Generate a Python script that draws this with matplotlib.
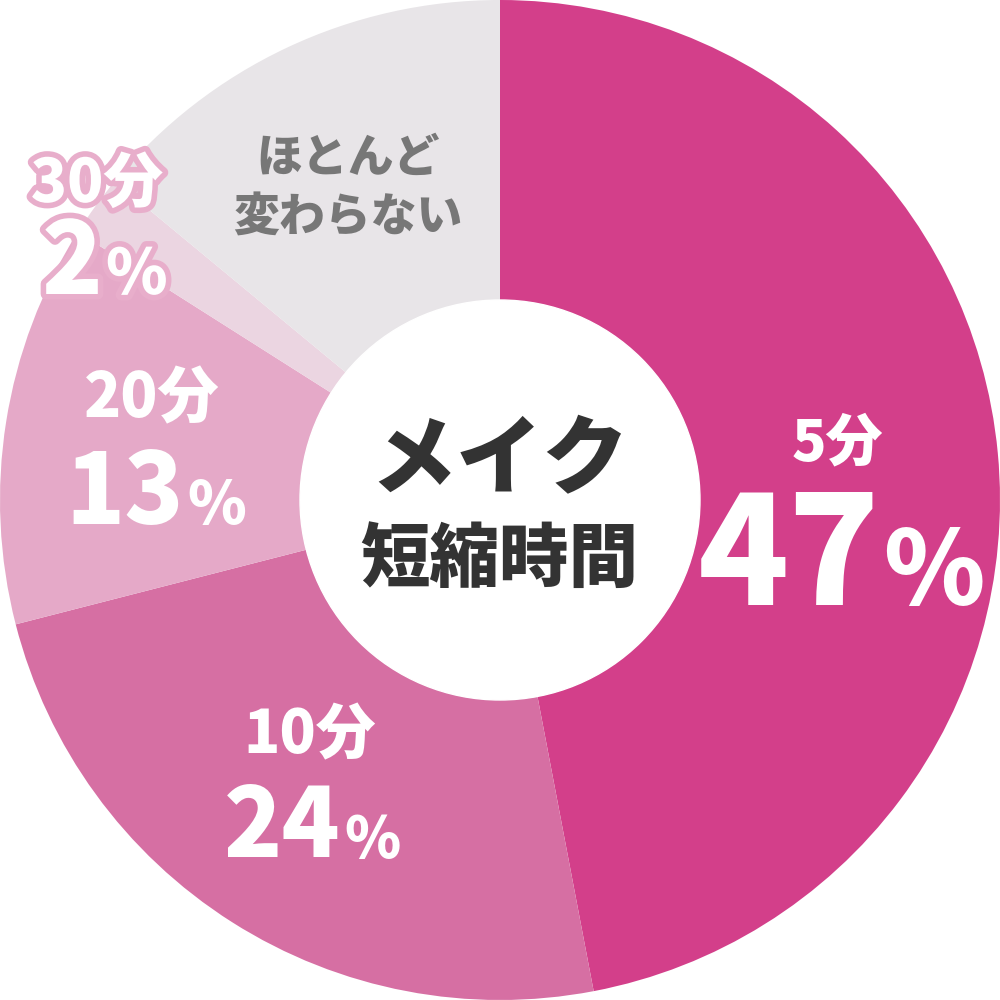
import matplotlib
matplotlib.use("Agg")
import matplotlib.pyplot as plt
import matplotlib.patheffects as pe

plt.rcParams["font.family"] = ["Noto Sans CJK JP", "DejaVu Sans"]

# data
categories = ["5分", "10分", "20分", "30分", "ほとんど\n変わらない"]
shares = [47, 24, 13, 2, 14]
colors = ["#D33F8A", "#D66FA3", "#E5A9C8", "#EBD5E1", "#E8E5E8"]

center_title = "メイク"
center_sub = "短縮時間"

W = "black"

fig = plt.figure(figsize=(10, 10), dpi=100)
ax = fig.add_axes([0, 0, 1, 1])
ax.pie(shares, colors=colors, startangle=90, counterclock=False,
       radius=1.0, wedgeprops={"linewidth": 0})
ax.add_patch(plt.Circle((0, 0), 0.4, color="white", zorder=3))
ax.set_xlim(-1, 1)
ax.set_ylim(-1, 1)
ax.set_aspect("equal")
ax.axis("off")


def px(x, y):
    # pixel position -> figure fraction
    return x / 1000, 1 - y / 1000


# centre text
fig.text(*px(500, 462), center_title, ha="center", va="center",
         fontsize=62, fontweight=W, color="#333333", zorder=5)
fig.text(*px(499, 560), center_sub, ha="center", va="center",
         fontsize=50, fontweight=W, color="#333333", zorder=5)

# label layout: (category x, category baseline, split x, percent baseline,
#                category size, number size, percent size)
layout = [
    (837, 460, 880, 605, 41, 108, 74),
    (310, 753, 341, 857, 43, 69, 41),
    (152, 417, 184, 524, 44, 70, 43),
    (97, 202, 103, 294, 43, 72, 45),
]

outline = [pe.withStroke(linewidth=8, foreground="#E8AECB")]

for i, (cx, cy, sx, sy, fc, fn, fp) in enumerate(layout):
    eff = outline if categories[i] == "30分" else None
    fig.text(*px(cx, cy), categories[i], ha="center", va="baseline",
             fontsize=fc, fontweight=W, color="white",
             path_effects=eff)
    fig.text(*px(sx, sy), str(shares[i]), ha="right", va="baseline",
             fontsize=fn, fontweight=W, color="white",
             path_effects=eff)
    fig.text(*px(sx + 3, sy), "%", ha="left", va="baseline",
             fontsize=fp, fontweight=W, color="white",
             path_effects=eff)

# grey slice label
fig.text(*px(348, 188), categories[4], ha="center", va="center",
         fontsize=33, fontweight=W, color="#777777", linespacing=1.35)

fig.savefig("out.png", dpi=100)
